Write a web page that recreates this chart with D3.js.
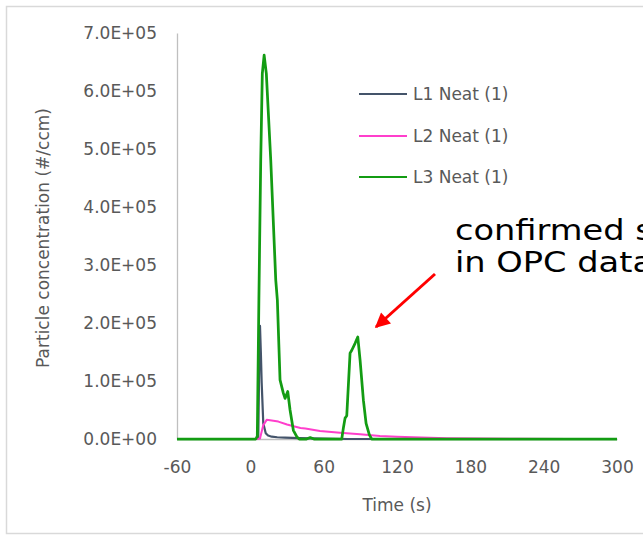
<!DOCTYPE html>
<html>
<head>
<meta charset="utf-8">
<script src="https://cdn.jsdelivr.net/npm/d3@7"></script>
<style>
  body { margin: 0; background: #fff; }
  text { font-family: "DejaVu Sans", sans-serif; }
  .tick text { fill: #595959; font-size: 17px; }
  .axisTitle { fill: #595959; font-size: 17px; }
  .legend text { fill: #595959; font-size: 17px; }
</style>
</head>
<body>
<div id="graph"></div>
<script>
// x ticks and y ticks
const xTicks = [-60, 0, 60, 120, 180, 240, 300];
const yTicks = [0, 100000, 200000, 300000, 400000, 500000, 600000, 700000];

const seriesNames = ["L1 Neat (1)", "L2 Neat (1)", "L3 Neat (1)"];
const seriesColors = ["#44546a", "#ff3fcc", "#139c13"];

// L1 Neat (1)
const l1Time = [-60, 5, 6.5, 7.2, 7.9, 8.6, 9.3, 10.6, 12.6, 14.5, 17.5, 22, 28.4, 40, 60, 80, 300];
const l1Vals = [0, 0, 2000, 120000, 195000, 150000, 96000, 27000, 10000, 6000, 4000, 3000, 2300, 1500, 800, 0, 0];

// L2 Neat (1)
const l2Time = [-60, 5, 7.9, 10.6, 13.4, 22.9, 30, 41, 45, 57, 73.4, 89.8, 106, 120, 133.4, 160.7, 188, 220, 260, 300];
const l2Vals = [0, 0, 1000, 24000, 33000, 30000, 25000, 19000, 18000, 13800, 10900, 8000, 5200, 4000, 2900, 1200, 700, 400, 200, 100];

// L3 Neat (1)
const l3Time = [-60, 4.5, 5.7, 7, 8.5, 9.8, 11.3, 13.1, 16.7, 20.8, 22.1, 24.3, 27, 28.4, 30.6, 32.5, 35.2, 38, 40, 46, 49, 52,
  74.8, 76.2, 77.5, 78.9, 81.6, 83, 85.7, 87.9, 89.8, 92.5, 94.7, 97.4, 99.3, 300];
const l3Vals = [0, 0, 5000, 240000, 480000, 630000, 662000, 630000, 481000, 274000, 240000, 102000, 79000, 70000, 82000, 50000, 15000, 4000, 0, 0, 2500, 0,
  0, 20000, 36000, 40000, 148000, 153000, 165000, 176000, 136000, 67000, 27000, 7000, 0, 0];

const W = 643, H = 536;
const margin = {top: 33, left: 177, right: 26, bottom: 97};
const width = W - margin.left - margin.right,
  height = H - margin.top - margin.bottom;

const svg = d3.select("#graph").append("svg")
  .attr("width", W)
  .attr("height", H);

// outer chart border (right edge lies outside the picture)
svg.append("rect")
  .attr("x", 6.5).attr("y", 6.5)
  .attr("width", 700).attr("height", 527)
  .attr("fill", "none")
  .attr("stroke", "#d9d9d9")
  .attr("stroke-width", 1.5);

const g = svg.append("g")
  .attr("transform", "translate(" + margin.left + "," + margin.top + ")");

const xScale = d3.scaleLinear().domain([-60, 300]).range([0, width]);
const yScale = d3.scaleLinear().domain([0, 700000]).range([height, 0]);

const fmt = (d) => d === 0 ? "0.0E+00" : (d / 100000).toFixed(1) + "E+05";

const yAxis = d3.axisLeft(yScale).tickValues(yTicks).tickFormat(fmt).tickSize(0).tickPadding(20);
const xAxis = d3.axisBottom(xScale).tickValues(xTicks).tickFormat((d) => String(d)).tickSize(0).tickPadding(20);

const gy = g.append("g").attr("class", "axis").call(yAxis);
gy.select(".domain").attr("stroke", "#bfbfbf").attr("stroke-width", 1.3);
gy.selectAll(".tick text").attr("dy", "0.35em");

const gx = g.append("g").attr("class", "axis")
  .attr("transform", "translate(0," + height + ")")
  .call(xAxis);
gx.select(".domain").attr("stroke", "#bfbfbf").attr("stroke-width", 1.3);
gx.selectAll(".tick text").attr("dy", "0.71em").attr("y", 22);

g.append("text")
  .attr("class", "axisTitle")
  .attr("x", width / 2)
  .attr("y", height + 72)
  .attr("text-anchor", "middle")
  .text("Time (s)");

g.append("text")
  .attr("class", "axisTitle")
  .attr("transform", "rotate(-90)")
  .attr("x", -205)
  .attr("y", -128)
  .attr("text-anchor", "middle")
  .text("Particle concentration (#/ccm)");

const series = [
  {name: seriesNames[0], color: seriesColors[0], w: 2.2, pts: l1Time.map((t, i) => [t, l1Vals[i]])},
  {name: seriesNames[1], color: seriesColors[1], w: 2, pts: l2Time.map((t, i) => [t, l2Vals[i]])},
  {name: seriesNames[2], color: seriesColors[2], w: 2.75, pts: l3Time.map((t, i) => [t, l3Vals[i]])}
];

const line = d3.line()
  .x((d) => xScale(d[0]))
  .y((d) => yScale(d[1]));

g.selectAll("path.series")
  .data(series)
  .enter().append("path")
  .attr("class", "series")
  .attr("d", (d) => line(d.pts))
  .attr("fill", "none")
  .attr("stroke", (d) => d.color)
  .attr("stroke-width", (d) => d.w)
  .attr("stroke-linejoin", "round");

// legend
const legend = svg.append("g").attr("class", "legend");
const lg = legend.selectAll("g")
  .data(series)
  .enter().append("g")
  .attr("transform", (d, i) => "translate(359," + [94, 136, 177][i] + ")");
lg.append("line")
  .attr("x1", 0).attr("x2", 48)
  .attr("stroke", (d) => d.color)
  .attr("stroke-width", 2);
lg.append("text")
  .attr("x", 54)
  .attr("dy", "0.35em")
  .text((d) => d.name);

// annotation (text runs past the right edge, as in the source)
const note = svg.append("text")
  .attr("transform", "translate(455,0) scale(1.16,1)")
  .attr("fill", "#000")
  .style("font-size", "29px");
note.append("tspan").attr("x", 0).attr("y", 240).text("confirmed spikes");
note.append("tspan").attr("x", 0).attr("y", 272).text("in OPC data");

svg.append("defs").append("marker")
  .attr("id", "arrow")
  .attr("viewBox", "0 0 10 10")
  .attr("refX", 9).attr("refY", 5)
  .attr("markerWidth", 5.5).attr("markerHeight", 5)
  .attr("markerUnits", "strokeWidth")
  .attr("orient", "auto")
  .append("path")
  .attr("d", "M0,0 L10,5 L0,10 z")
  .attr("fill", "#ff0000");

svg.append("line")
  .attr("x1", 435).attr("y1", 274)
  .attr("x2", 376).attr("y2", 327)
  .attr("stroke", "#ff0000")
  .attr("stroke-width", 3)
  .attr("marker-end", "url(#arrow)");
</script>
</body>
</html>
